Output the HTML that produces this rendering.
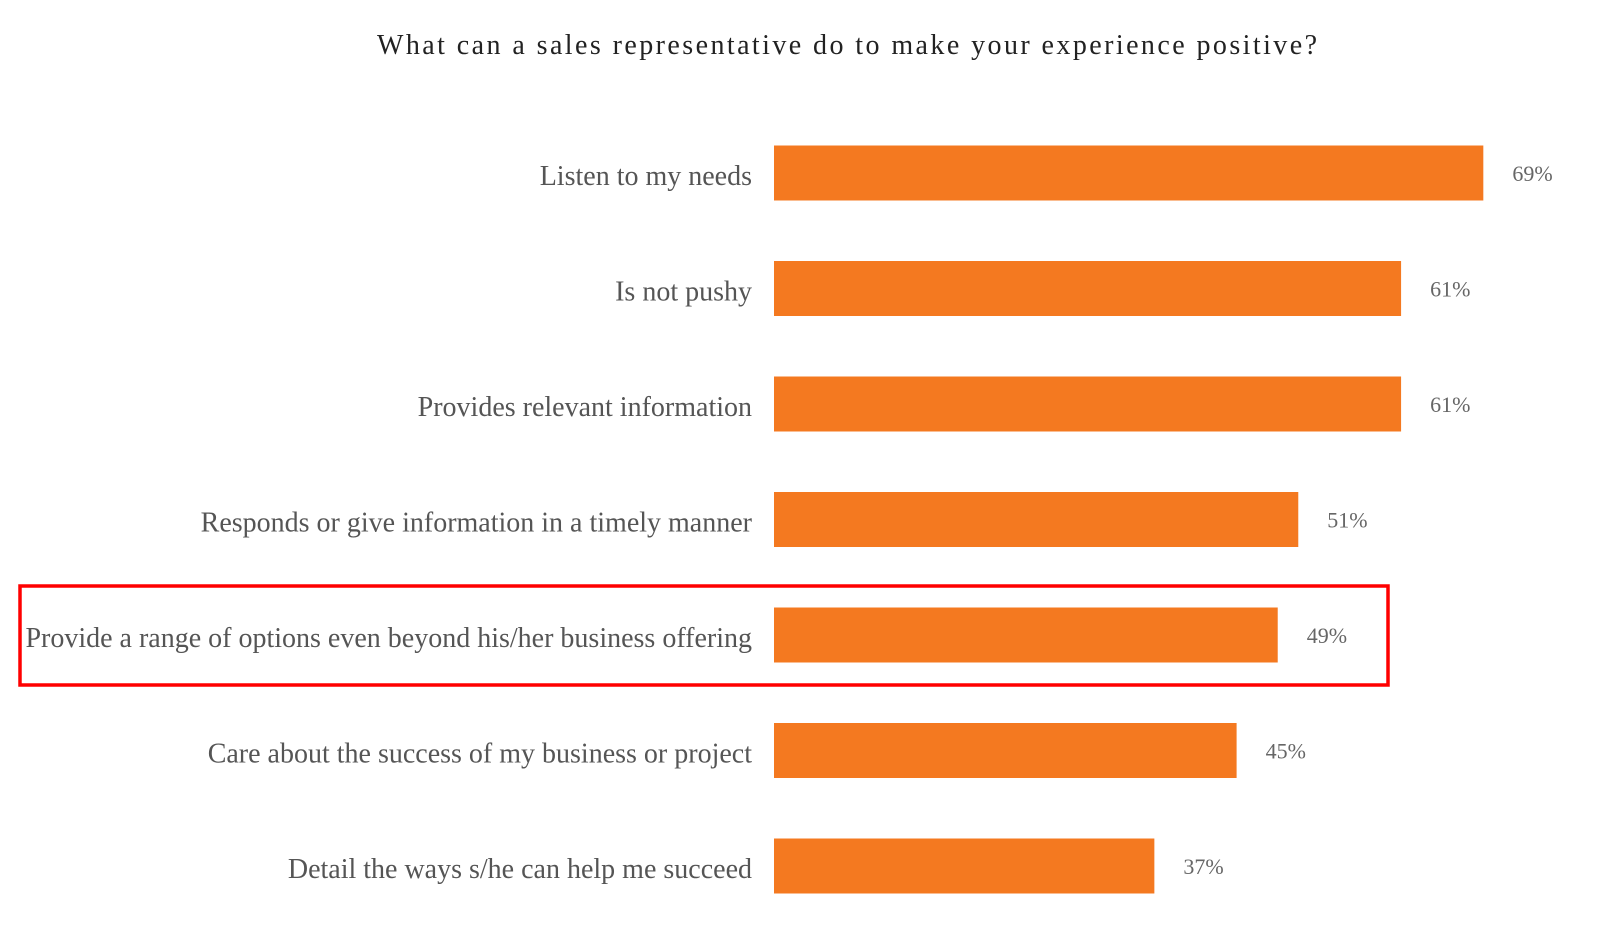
<!DOCTYPE html>
<html><head><meta charset="utf-8"><style>
html,body{margin:0;padding:0;background:#fff;}
svg{display:block;}
</style></head><body>
<svg id="chart" width="1600" height="926" viewBox="0 0 1600 926" xmlns="http://www.w3.org/2000/svg">
<text x="847" y="54" text-anchor="middle" font-family="Liberation Serif, serif" font-size="28" fill="#222" textLength="940" lengthAdjust="spacing">What can a sales representative do to make your experience positive?</text>
<rect x="20" y="586" width="1368" height="99" fill="none" stroke="#ff0000" stroke-width="3.5"/>
<g id="bars"></g>
</svg>
<script>
const categories = ["Listen to my needs","Is not pushy","Provides relevant information","Responds or give information in a timely manner","Provide a range of options even beyond his/her business offering","Care about the success of my business or project","Detail the ways s/he can help me succeed"];
const values = [69,61,61,51,49,45,37];
const valueLabels = ["69%","61%","61%","51%","49%","45%","37%"];

const x0 = 774, pxPer = 10.28, yFirst = 173, step = 115.5, barH = 55;
function xScale(v){ return x0 + v*pxPer; }
function yScale(i){ return yFirst + i*step; }
const ns = "http://www.w3.org/2000/svg";
const g = document.getElementById('bars');
categories.forEach((c,i)=>{
  const cy = yScale(i);
  const r = document.createElementNS(ns,'rect');
  r.setAttribute('x', x0); r.setAttribute('y', cy - barH/2);
  r.setAttribute('width', xScale(values[i]) - x0); r.setAttribute('height', barH);
  r.setAttribute('fill', '#f47920');
  
  
  g.appendChild(r);
  const t = document.createElementNS(ns,'text');
  t.setAttribute('x', 752); t.setAttribute('y', cy + 12);
  t.setAttribute('text-anchor', 'end');
  t.setAttribute('font-family', 'Liberation Serif, serif');
  t.setAttribute('font-size', '28');
  t.setAttribute('fill', '#555');
  t.textContent = c;
  
  
  g.appendChild(t);
  const v = document.createElementNS(ns,'text');
  v.setAttribute('x', xScale(values[i]) + 29); v.setAttribute('y', cy + 8);
  v.setAttribute('font-family', 'Liberation Serif, serif');
  v.setAttribute('font-size', '22');
  v.setAttribute('fill', '#666');
  v.textContent = valueLabels[i];
  
  
  g.appendChild(v);
});
</script>
</body></html>
